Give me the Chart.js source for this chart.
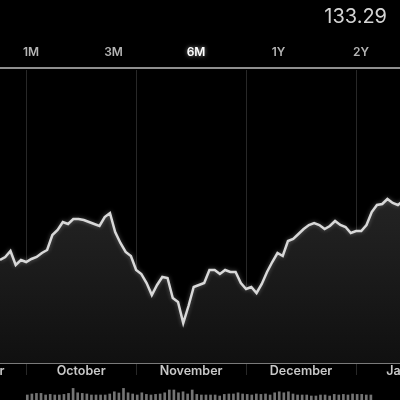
<!DOCTYPE html>
<html>
<head>
<meta charset="utf-8">
<script src="https://cdn.jsdelivr.net/npm/chart.js@4"></script>
<style>
  html, body { margin: 0; padding: 0; background: #000; width: 400px; height: 400px; overflow: hidden; }
  #wrap { position: relative; width: 400px; height: 400px; }
  #price { position: absolute; left: 0; top: 0; }
  #vol { position: absolute; left: 0; top: 383px; }
</style>
</head>
<body>
<div id="wrap">
  <canvas id="price" width="400" height="400"></canvas>
  <canvas id="vol" width="400" height="17"></canvas>
</div>
<script>
// one value per trading day
const PRICES = [
  127.6, 127.9, 128.5, 127.1, 127.6, 127.4, 127.7, 127.9, 128.3, 128.6,
  130.1, 130.6, 131.4, 131.2, 131.7, 131.7, 131.6, 131.4, 131.2, 131.0,
  131.9, 132.3, 130.4, 129.3, 128.4, 128.0, 126.6, 126.2, 125.3, 124.1,
  125.1, 125.9, 125.8, 123.8, 123.4, 121.3, 123.0, 124.9, 125.1, 125.3,
  126.6, 126.6, 126.2, 126.6, 126.4, 126.4, 125.3, 124.7, 124.9, 124.3,
  125.2, 126.4, 127.4, 128.3, 128.0, 129.5, 129.7, 130.2, 130.7, 131.1,
  131.3, 131.1, 130.7, 131.0, 131.5, 131.1, 130.9, 130.3, 130.5, 130.5,
  131.1, 132.4, 133.1, 133.2, 133.7, 133.3, 133.1, 133.5
];
const VOLUMES = [
  25, 30, 33, 33, 25, 28, 25, 25, 28, 33,
  58, 36, 33, 30, 25, 25, 25, 25, 30, 41,
  35, 58, 36, 30, 25, 36, 28, 25, 28, 30,
  36, 50, 50, 36, 41, 30, 50, 28, 25, 25,
  25, 25, 20, 28, 30, 30, 36, 30, 28, 25,
  30, 28, 30, 25, 36, 41, 36, 41, 30, 25,
  25, 25, 20, 20, 25, 25, 20, 28, 25, 28,
  25, 30, 28, 28, 25, 25
];
const MONTH_LABELS = ["September", "October", "November", "December", "January"];
const MONTH_MIDS = [-5.5, 15.5, 36.5, 57.5, 78.5];
const MONTH_STARTS = [5, 26, 47, 68];
const RANGES = ["1M", "3M", "6M", "1Y", "2Y"];
const ACTIVE_RANGE = "6M";
const LAST_PRICE = "133.29";

const FONT = "Inter, 'Open Sans', sans-serif";

// soft halo around the price line (runs after the filler has painted the area)
const glowPlugin = {
  id: "glow",
  beforeDatasetDraw(chart) {
    const ctx = chart.ctx;
    ctx.save();
    ctx.shadowColor = "rgba(190,190,190,0.45)";
    ctx.shadowBlur = 4;
  },
  afterDatasetDraw(chart) {
    chart.ctx.restore();
  }
};

const headerPlugin = {
  id: "header",
  afterDraw(chart) {
    const ctx = chart.ctx;
    const x = chart.scales.x;
    ctx.save();
    // last price
    ctx.fillStyle = "#d4d4d4";
    ctx.font = "20px " + FONT;
    ctx.textAlign = "right";
    ctx.textBaseline = "alphabetic";
    ctx.fillText(LAST_PRICE, 387, 23);
    // range selector
    ctx.textAlign = "center";
    ctx.textBaseline = "middle";
    ctx.font = "600 12px " + FONT;
    RANGES.forEach((r, i) => {
      const active = r === ACTIVE_RANGE;
      ctx.fillStyle = active ? "#ffffff" : "#b4b4b4";
      ctx.shadowColor = active ? "rgba(255,255,255,0.6)" : "transparent";
      ctx.shadowBlur = active ? 4 : 0;
      ctx.fillText(r, 31 + i * 82.5, 52);
    });
    ctx.shadowBlur = 0;
    ctx.fillStyle = "#8f8f8f";
    ctx.fillRect(0, 67, 400, 2);
    // month labels, centred between month boundaries
    ctx.fillStyle = "#c8c8c8";
    ctx.font = "600 12.5px " + FONT;
    MONTH_LABELS.forEach((m, i) => {
      ctx.fillText(m, x.getPixelForValue(MONTH_MIDS[i]), 371);
    });
    ctx.restore();
  }
};

new Chart(document.getElementById("price"), {
  type: "line",
  data: {
    datasets: [{
      data: PRICES.map((p, i) => ({ x: i, y: p })),
      borderColor: "#d8d8d8",
      borderWidth: 2.5,
      pointRadius: 0,
      tension: 0,
      fill: "start",
      backgroundColor: (c) => {
        const area = c.chart.chartArea;
        if (!area) return "#1c1c1c";
        const g = c.chart.ctx.createLinearGradient(0, area.top, 0, area.bottom);
        g.addColorStop(0, "#333333");
        g.addColorStop(1, "#101010");
        return g;
      }
    }]
  },
  options: {
    responsive: false,
    animation: false,
    layout: { padding: { top: 70, bottom: 24, left: 0, right: 0 } },
    plugins: { legend: { display: false }, tooltip: { enabled: false } },
    scales: {
      x: {
        type: "linear",
        min: 0,
        max: 76.4,
        afterBuildTicks: (s) => { s.ticks = MONTH_STARTS.map((v) => ({ value: v })); },
        afterFit: (s) => { s.height = 13; },
        ticks: { display: false },
        grid: { color: "#282828", tickLength: 12, drawTicks: true },
        border: { color: "#7a7a7a", width: 2 }
      },
      y: { display: false, min: 117.3, max: 146.6 }
    }
  },
  plugins: [glowPlugin, headerPlugin]
});

new Chart(document.getElementById("vol"), {
  type: "bar",
  data: {
    datasets: [{
      data: VOLUMES.map((v, i) => ({ x: i, y: v })),
      backgroundColor: "#747474",
      barThickness: 2
    }]
  },
  options: {
    responsive: false,
    animation: false,
    layout: { padding: 0 },
    plugins: { legend: { display: false }, tooltip: { enabled: false } },
    scales: {
      x: { type: "linear", min: -0.5, max: 75.9, display: false },
      y: { min: 0, max: 85, display: false }
    }
  }
});
</script>
</body>
</html>
